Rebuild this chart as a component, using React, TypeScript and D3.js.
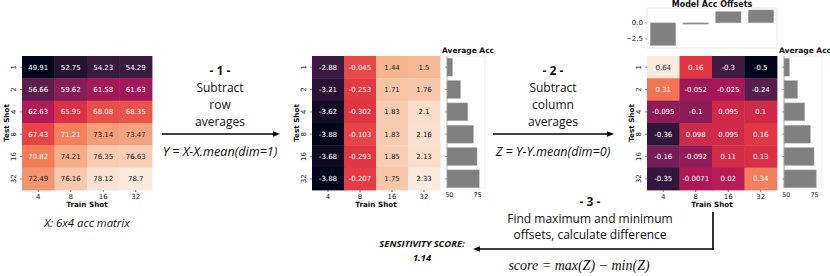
import React from 'react';
import * as d3 from 'd3';

// data
const trainShots = ['4', '8', '16', '32'];
const testShots = ['1', '2', '4', '8', '16', '32'];

const accX = [
  [49.91, 52.75, 54.23, 54.29],
  [56.66, 59.62, 61.58, 61.63],
  [62.63, 65.95, 68.08, 68.35],
  [67.43, 71.21, 73.14, 73.47],
  [70.82, 74.21, 76.35, 76.63],
  [72.49, 76.16, 78.12, 78.7],
];

const rowOffsetsY = [
  [-2.88, -0.045, 1.44, 1.5],
  [-3.21, -0.253, 1.71, 1.76],
  [-3.62, -0.302, 1.83, 2.1],
  [-3.88, -0.103, 1.83, 2.16],
  [-3.68, -0.293, 1.85, 2.13],
  [-3.88, -0.207, 1.75, 2.33],
];

const offsetsZ = [
  [0.64, 0.16, -0.3, -0.5],
  [0.31, -0.052, -0.025, -0.24],
  [-0.095, -0.1, 0.095, 0.1],
  [-0.36, 0.098, 0.095, 0.16],
  [-0.16, -0.092, 0.11, 0.13],
  [-0.35, -0.0071, 0.02, 0.34],
];

const averageAcc = [52.8, 59.9, 66.3, 71.3, 74.5, 76.4];
const modelAccOffsets = [-3.52, -0.2, 1.74, 2.0];
const barTicks = [50, 75];
const offsetTicks = [0, -2.5];
const sensitivityScore = '1.14';

// seaborn "rocket"
const rocketStops = ['#03051a', '#35193e', '#701f57', '#ad1759', '#e13342', '#f37651', '#f6b48f', '#faebdd'];
const rocket = d3.scaleLinear<string>()
  .domain(rocketStops.map((_, i) => i / (rocketStops.length - 1)))
  .range(rocketStops)
  .interpolate(d3.interpolateRgb);

const luminance = (c: string) => {
  const { r, g, b } = d3.rgb(c);
  const lin = (v: number) => {
    const s = v / 255;
    return s <= 0.03928 ? s / 12.92 : Math.pow((s + 0.055) / 1.055, 2.4);
  };
  return 0.2126 * lin(r) + 0.7152 * lin(g) + 0.0722 * lin(b);
};

const TOP = 56;
const BOTTOM = 190;
const tickFont = 'DejaVu Sans, sans-serif';
const noteFont = '"Open Sans", sans-serif';

const Heatmap = ({ left, right, values }: { left: number; right: number; values: number[][] }) => {
  const x = d3.scaleBand().domain(trainShots).range([left, right]);
  const y = d3.scaleBand().domain(testShots).range([TOP, BOTTOM]);
  const flat = values.flat();
  const norm = d3.scaleLinear().domain(d3.extent(flat) as [number, number]).range([0, 1]);
  return (
    <g>
      {values.map((row, i) =>
        row.map((v, j) => {
          const fill = rocket(norm(v));
          return (
            <g key={`${i}-${j}`}>
              <rect x={x(trainShots[j])} y={y(testShots[i])} width={x.bandwidth() + 0.4}
                height={y.bandwidth() + 0.4} fill={fill} />
              <text x={x(trainShots[j])! + x.bandwidth() / 2} y={y(testShots[i])! + y.bandwidth() / 2}
                dy="0.35em" textAnchor="middle" fontSize={7} fontFamily={tickFont}
                fill={luminance(fill) > 0.408 ? '#262626' : '#ffffff'}>{String(v)}</text>
            </g>
          );
        })
      )}
      {trainShots.map(t => (
        <g key={t}>
          <line x1={x(t)! + x.bandwidth() / 2} x2={x(t)! + x.bandwidth() / 2} y1={BOTTOM} y2={BOTTOM + 2}
            stroke="#333" strokeWidth={0.6} />
          <text x={x(t)! + x.bandwidth() / 2} y={BOTTOM + 9} textAnchor="middle" fontSize={7}
            fontFamily={tickFont} fill="#222">{t}</text>
        </g>
      ))}
      {testShots.map(t => (
        <g key={t}>
          <line x1={left - 2} x2={left} y1={y(t)! + y.bandwidth() / 2} y2={y(t)! + y.bandwidth() / 2}
            stroke="#333" strokeWidth={0.6} />
          <text transform={`translate(${left - 8},${y(t)! + y.bandwidth() / 2}) rotate(-90)`}
            dy="0.35em" textAnchor="middle" fontSize={7} fontFamily={tickFont} fill="#222">{t}</text>
        </g>
      ))}
      <text x={(left + right) / 2} y={BOTTOM + 17} textAnchor="middle" fontSize={7.2} fontWeight="bold"
        fontFamily={tickFont} fill="#111">Train Shot</text>
      <text transform={`translate(${left - 16},${(TOP + BOTTOM) / 2}) rotate(-90)`} dy="0.35em"
        textAnchor="middle" fontSize={7.2} fontWeight="bold" fontFamily={tickFont} fill="#111">Test Shot</text>
    </g>
  );
};

const AvgBars = ({ left, right }: { left: number; right: number }) => {
  const x = d3.scaleLinear().domain([48, 81.5]).range([left, right]);
  const y = d3.scaleBand().domain(testShots).range([TOP, BOTTOM]).paddingInner(0.2).paddingOuter(0.1);
  return (
    <g>
      <rect x={left} y={TOP} width={right - left} height={BOTTOM - TOP - 2} fill="none" stroke="#e4e4e4" strokeWidth={0.6} />
      <line x1={left} x2={left} y1={TOP} y2={BOTTOM - 2} stroke="#aaa" strokeWidth={0.8} />
      {averageAcc.map((v, i) => (
        <g key={i}>
          <rect x={left} y={y(testShots[i])} width={x(v) - left} height={y.bandwidth()} fill="#808080"
            stroke="#b0b0b0" strokeWidth={0.5} />
          <line x1={left - 2} x2={left} y1={y(testShots[i])! + y.bandwidth() / 2}
            y2={y(testShots[i])! + y.bandwidth() / 2} stroke="#555" strokeWidth={0.5} />
        </g>
      ))}
      {barTicks.map(t => (
        <text key={t} x={x(t)} y={BOTTOM + 7} textAnchor="middle" fontSize={6.5} fontFamily={tickFont}
          fill="#222">{t}</text>
      ))}
      <text x={left - 5} y={TOP - 3} fontSize={7.5} fontWeight="bold" fontFamily={tickFont} fill="#111">Average Acc</text>
    </g>
  );
};

const OffsetBars = ({ left, right }: { left: number; right: number }) => {
  const x = d3.scaleBand().domain(trainShots).range([left, right]).paddingInner(0.22).paddingOuter(0.1);
  const y = d3.scaleLinear().domain([-3.9, 2.3]).range([48, 8]);
  return (
    <g>
      <rect x={left} y={8} width={right - left} height={40} fill="none" stroke="#ddd" strokeWidth={0.6} />
      {modelAccOffsets.map((v, i) => (
        <rect key={i} x={x(trainShots[i])} y={y(Math.max(0, v))} width={x.bandwidth()}
          height={Math.max(1, Math.abs(y(v) - y(0)))} fill="#808080" stroke="#b0b0b0" strokeWidth={0.5} />
      ))}
      {offsetTicks.map(t => (
        <g key={t}>
          <line x1={left - 2} x2={left} y1={y(t)} y2={y(t)} stroke="#555" strokeWidth={0.5} />
          <text x={left - 4} y={y(t)} dy="0.35em" textAnchor="end" fontSize={7} fontFamily={tickFont}
            fill="#222">{t === 0 ? '0.0' : '\u22122.5'}</text>
        </g>
      ))}
      <text x={(left + right) / 2} y={7} textAnchor="middle" fontSize={8} fontWeight="bold"
        fontFamily={tickFont} fill="#111">Model Acc Offsets</text>
    </g>
  );
};

const Arrow = ({ x1, x2, y }: { x1: number; x2: number; y: number }) => {
  const dir = x2 > x1 ? 1 : -1;
  return (
    <g>
      <line x1={x1} x2={x2 - dir * 5} y1={y} y2={y} stroke="#000" strokeWidth={1.6} />
      <path d={`M${x2},${y} L${x2 - dir * 7},${y - 2.8} L${x2 - dir * 7},${y + 2.8} Z`} fill="#000" />
    </g>
  );
};

const StepNote = ({ cx, lines, step }: { cx: number; lines: string[]; step: string }) => (
  <g fontFamily={noteFont} fill="#111" textAnchor="middle">
    <text x={cx} y={75} fontSize={12} fontWeight="bold">{`- ${step} -`}</text>
    {lines.map((l, i) => (
      <text key={i} x={cx} y={92 + i * 17} fontSize={12}>{l}</text>
    ))}
  </g>
);

export default function App() {
  return (
    <svg width={830} height={276} style={{ position: 'absolute', left: 0, top: 0, background: '#fff' }}>
      <Heatmap left={22} right={152} values={accX} />
      <text x={87} y={227} textAnchor="middle" fontSize={11.4} fontStyle="italic" fontFamily={noteFont}
        fill="#111">X: 6x4 acc matrix</text>

      <StepNote cx={220} step="1" lines={['Subtract', 'row', 'averages']} />
      <Arrow x1={162} x2={280} y={134} />
      <text x={220} y={156} textAnchor="middle" fontSize={12.6} fontStyle="italic" fontFamily={noteFont}
        fill="#111">Y = X-X.mean(dim=1)</text>

      <Heatmap left={312} right={440} values={rowOffsetsY} />
      <AvgBars left={447} right={485} />

      <StepNote cx={553} step="2" lines={['Subtract', 'column', 'averages']} />
      <Arrow x1={493} x2={614} y={134} />
      <text x={553} y={156} textAnchor="middle" fontSize={12.6} fontStyle="italic" fontFamily={noteFont}
        fill="#111">Z = Y-Y.mean(dim=0)</text>

      <OffsetBars left={647} right={777} />
      <Heatmap left={647} right={777} values={offsetsZ} />
      <AvgBars left={784} right={822} />

      <g fontFamily={noteFont} fill="#111" textAnchor="middle">
        <text x={590} y={206} fontSize={12} fontWeight="bold">- 3 -</text>
        <text x={590} y={222.5} fontSize={12}>Find maximum and minimum</text>
        <text x={590} y={239} fontSize={12}>offsets, calculate difference</text>
      </g>
      <line x1={713} x2={713} y1={212} y2={249.8} stroke="#000" strokeWidth={1.6} />
      <Arrow x1={713.8} x2={473} y={249} />
      <text x={579} y={270} textAnchor="middle" fontSize={14} fontStyle="italic"
        fontFamily="Liberation Serif, serif" fill="#111">score = max(Z) − min(Z)</text>

      <g fontFamily={noteFont} fill="#111" textAnchor="middle" fontWeight="bold" fontStyle="italic" fontSize={9.4}>
        <text x={422} y={247}>SENSITIVITY SCORE:</text>
        <text x={422} y={261}>{sensitivityScore}</text>
      </g>
    </svg>
  );
}
